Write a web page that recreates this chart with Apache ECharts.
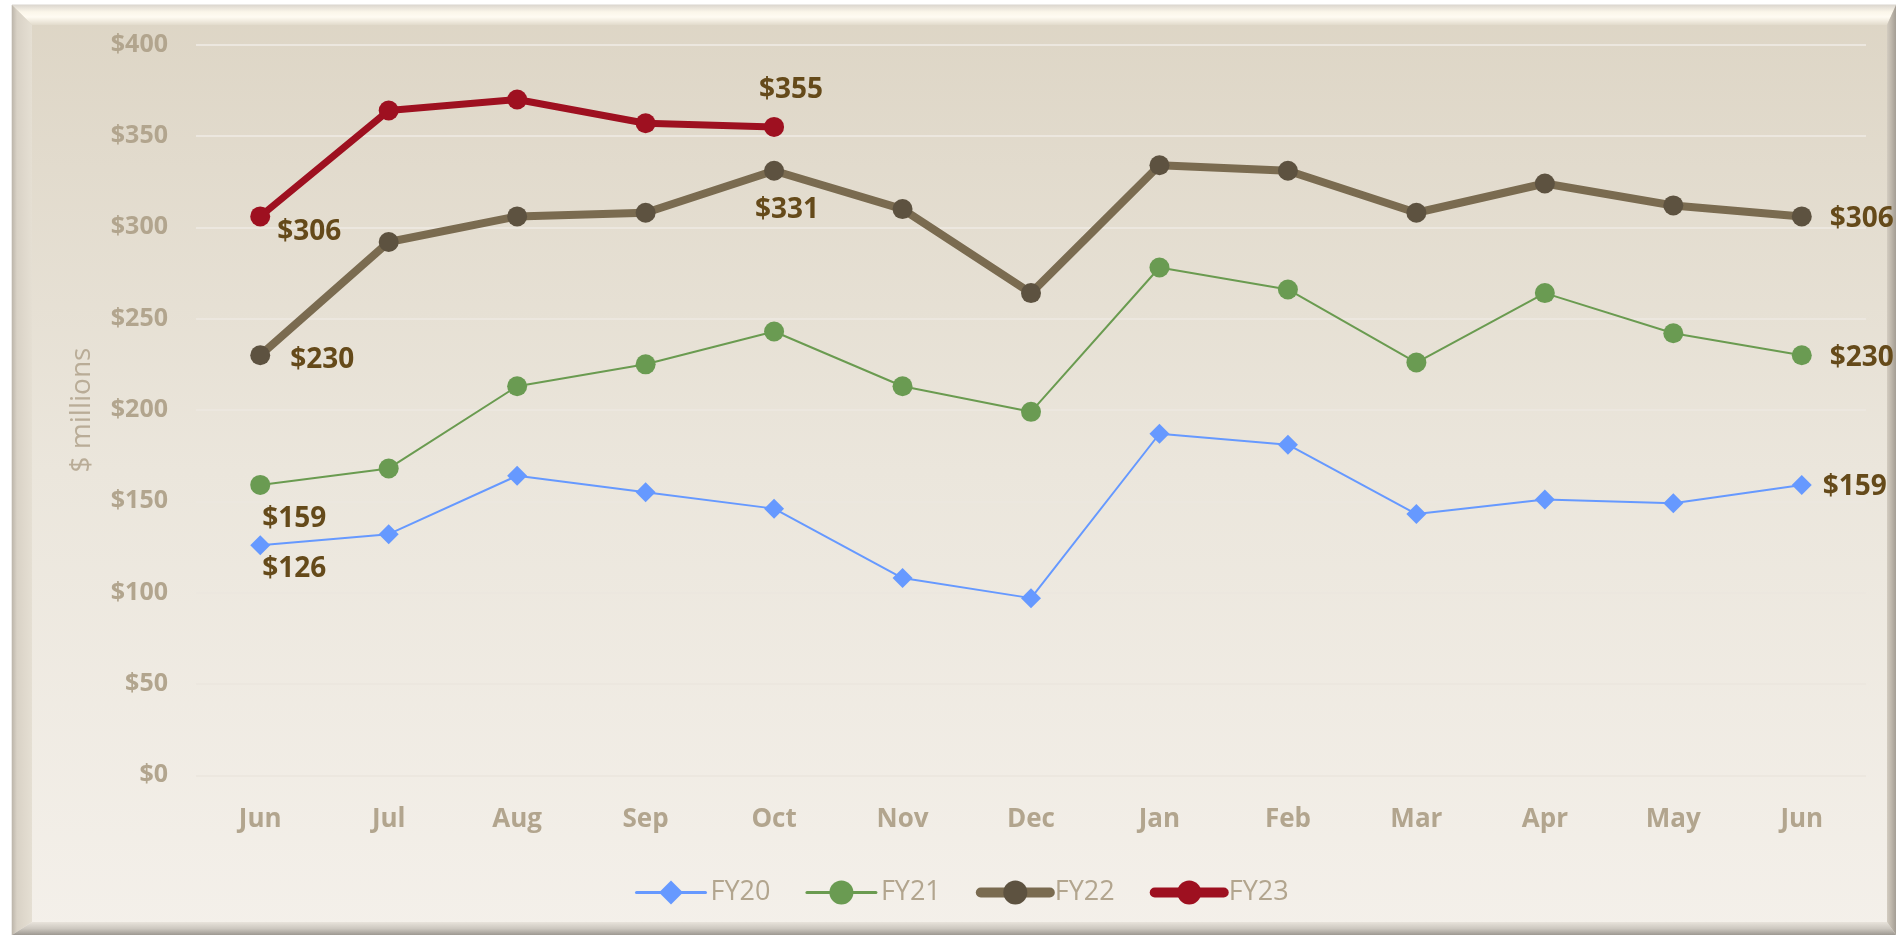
<!DOCTYPE html>
<html>
<head>
<meta charset="utf-8">
<script src="https://cdn.jsdelivr.net/npm/echarts@6/dist/echarts.min.js"></script>
<style>
  html, body { margin: 0; padding: 0; background: #ffffff; }
  #chart { width: 1896px; height: 935px; }
</style>
</head>
<body>
<div id="chart"></div>
<script>
// ---- data ----
const categories = ['Jun', 'Jul', 'Aug', 'Sep', 'Oct', 'Nov', 'Dec', 'Jan', 'Feb', 'Mar', 'Apr', 'May', 'Jun'];
const seriesNames = ['FY20', 'FY21', 'FY22', 'FY23'];
const fy20 = [126, 132, 164, 155, 146, 108, 97, 187, 181, 143, 151, 149, 159];
const fy21 = [159, 168, 213, 225, 243, 213, 199, 278, 266, 226, 264, 242, 230];
const fy22 = [230, 292, 306, 308, 331, 310, 264, 334, 331, 308, 324, 312, 306];
const fy23 = [306, 364, 370, 357, 355];
const yMin = 0, yMax = 400, yInterval = 50;

// ---- styling ----
const labelColor = '#654a1a';
const axisColor = '#b2a58e';
const FONT = '"Open Sans", "Noto Sans", sans-serif';

// which points carry a data label, and where (style only)
const labelSpecs = {
  FY20: { 0: { position: 'bottom', distance: 5, offset: [34, -5] }, 12: { position: 'right', distance: 11, offset: [0, 2] } },
  FY21: { 0: { position: 'bottom', distance: 5, offset: [34, 5] }, 12: { position: 'right', distance: 18, offset: [0, 3] } },
  FY22: { 0: { position: 'right', distance: 20, offset: [0, 5] }, 4: { position: 'bottom', distance: 5, offset: [13, 10] }, 12: { position: 'right', distance: 18, offset: [0, 3] } },
  FY23: { 0: { position: 'right', distance: 7, offset: [0, 16] }, 4: { position: 'top', distance: 5, offset: [17, -8] } }
};

function withLabels(name, values) {
  const spec = labelSpecs[name] || {};
  return values.map((v, i) => {
    if (spec[i]) {
      return {
        value: v,
        label: Object.assign({
          show: true,
          formatter: p => '$' + p.value,
          color: labelColor,
          fontFamily: FONT,
          fontWeight: 'bold',
          fontSize: 28
        }, spec[i])
      };
    }
    return v;
  });
}

const seriesStyles = {
  FY20: { symbol: 'diamond', symbolSize: 20, line: '#6699ff', marker: '#6699ff', width: 2, legendWidth: 3 },
  FY21: { symbol: 'circle', symbolSize: 20, line: '#6a9b50', marker: '#6a9b52', width: 2, legendWidth: 3 },
  FY22: { symbol: 'circle', symbolSize: 20, line: '#7a6b50', marker: '#5d5240', width: 8, legendWidth: 10 },
  FY23: { symbol: 'circle', symbolSize: 20, line: '#9e1020', marker: '#9e1020', width: 7, legendWidth: 10 }
};
const seriesValues = { FY20: fy20, FY21: fy21, FY22: fy22, FY23: fy23 };

// frame geometry
const L = 12, T = 5, R = 1896, B = 935;
const l = 32, t = 25, r = 1887, b = 922;

const chart = echarts.init(document.getElementById('chart'), null, { renderer: 'canvas' });

const option = {
  animation: false,
  graphic: [
    {
      type: 'rect', z: -100, silent: true,
      shape: { x: L, y: T, width: R - L, height: B - T },
      style: {
        fill: new echarts.graphic.LinearGradient(0, 0, 0, 1, [
          { offset: 0, color: '#ddd5c5' },
          { offset: 0.5, color: '#ebe6dc' },
          { offset: 1, color: '#f4f0ea' }
        ]),
        stroke: '#d9d5ce', lineWidth: 1
      }
    },
    {
      type: 'polygon', z: -50, silent: true,
      shape: { points: [[L, T], [R, T], [r, t], [l, t]] },
      style: {
        fill: new echarts.graphic.LinearGradient(0, 0, 0, 1, [
          { offset: 0, color: '#dcd7cf' },
          { offset: 0.35, color: '#fbf6ea' },
          { offset: 0.6, color: '#fffbf2' },
          { offset: 1, color: '#e2dbcc' }
        ])
      }
    },
    {
      type: 'polygon', z: -50, silent: true,
      shape: { points: [[L, T], [l, t], [l, b], [L, B]] },
      style: {
        fill: new echarts.graphic.LinearGradient(0, 0, 1, 0, [
          { offset: 0, color: '#bdb6ab' },
          { offset: 0.25, color: '#d9d2c6' },
          { offset: 1, color: '#e5dfd3' }
        ])
      }
    },
    {
      type: 'polygon', z: -50, silent: true,
      shape: { points: [[l, b], [r, b], [R, B], [L, B]] },
      style: {
        fill: new echarts.graphic.LinearGradient(0, 0, 0, 1, [
          { offset: 0, color: '#e8e3db' },
          { offset: 0.5, color: '#cdc8c0' },
          { offset: 1, color: '#9d9891' }
        ])
      }
    },
    {
      type: 'polygon', z: -50, silent: true,
      shape: { points: [[r, t], [R, T], [R, B], [r, b]] },
      style: {
        fill: new echarts.graphic.LinearGradient(0, 0, 1, 0, [
          { offset: 0, color: '#d3ccc0' },
          { offset: 0.5, color: '#bdb6ab' },
          { offset: 1, color: '#a39d94' }
        ])
      }
    }
  ],
  grid: {
    left: 196, right: 30, top: 44.7, bottom: 159.7,
    containLabel: false, outerBoundsMode: 'none'
  },
  legend: {
    data: seriesNames.map(name => ({
      name: name,
      lineStyle: { width: seriesStyles[name].legendWidth, cap: 'round' }
    })),
    left: 630, top: 874,
    itemWidth: 69, itemHeight: 30, itemGap: 35,
    textStyle: { color: axisColor, fontSize: 27, fontFamily: FONT, fontWeight: 'normal' }
  },
  xAxis: {
    type: 'category',
    data: categories,
    boundaryGap: true,
    axisLine: { show: false },
    axisTick: { show: false },
    axisLabel: { color: axisColor, fontFamily: FONT, fontWeight: 'bold', fontSize: 26, margin: 31, interval: 0 },
    splitLine: { show: false }
  },
  yAxis: {
    type: 'value',
    min: yMin, max: yMax, interval: yInterval,
    name: '$ millions',
    nameLocation: 'middle',
    nameGap: 100,
    nameRotate: 90,
    nameTextStyle: { color: '#b9ac97', fontFamily: FONT, fontSize: 28, fontWeight: 'normal' },
    axisLine: { show: false },
    axisTick: { show: false },
    axisLabel: { color: axisColor, fontFamily: FONT, fontWeight: 'bold', fontSize: 25, margin: 28, formatter: v => '$' + v },
    splitLine: { show: true, lineStyle: { color: '#ece7df', width: 2 } }
  },
  series: seriesNames.map(name => {
    const s = seriesStyles[name];
    return {
      name: name,
      type: 'line',
      data: withLabels(name, seriesValues[name]),
      symbol: s.symbol,
      symbolSize: s.symbolSize,
      showSymbol: true,
      showAllSymbol: true,
      lineStyle: { color: s.line, width: s.width, cap: 'round', join: 'round' },
      itemStyle: { color: s.marker, borderWidth: 0 },
      label: { show: false },
      emphasis: { disabled: true }
    };
  })
};

chart.setOption(option);
</script>
</body>
</html>
